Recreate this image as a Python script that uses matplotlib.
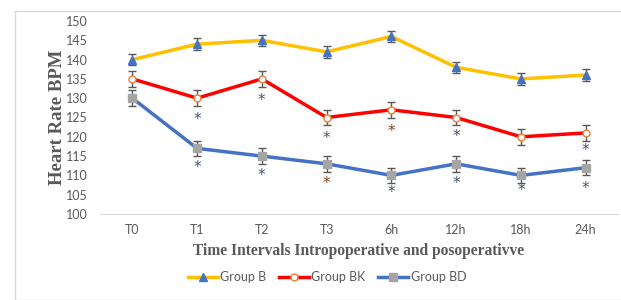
import matplotlib.pyplot as plt
from matplotlib.patches import Rectangle
from matplotlib.lines import Line2D

plt.rcParams["font.family"] = ["Lato", "DejaVu Sans"]

# time points and group means
times = ["T0", "T1", "T2", "T3", "6h", "12h", "18h", "24h"]
group_b = [140, 144, 145, 142, 146, 138, 135, 136]
group_bk = [135, 130, 135, 125, 127, 125, 120, 121]
group_bd = [130, 117, 115, 113, 110, 113, 110, 112]
err_b = [1.5, 1.5, 1.5, 1.5, 1.5, 1.5, 1.5, 1.5]
err_bk = [2, 2, 2, 2, 2, 2, 2, 2]
err_bd = [2, 2, 2, 2, 2, 2, 2, 2]

# significance asterisks: (time index, y level, colour)
stars_bk = [(1, 124.5, "#44546A"), (2, 129.5, "#44546A"), (3, 119.5, "#44546A"),
            (4, 121.5, "#843C0C"), (5, 120, "#44546A"), (7, 116.5, "#44546A")]
stars_bd = [(1, 112, "#44546A"), (2, 110, "#44546A"), (3, 108, "#843C0C"),
            (4, 105.5, "#44546A"), (5, 108, "#44546A"), (6, 106, "#44546A"),
            (7, 106.5, "#44546A")]

fig = plt.figure(figsize=(6.21, 3.0), dpi=100)
fig.patches.append(Rectangle((15 / 621, 0.0), 1.0, 1 - 11 / 300, transform=fig.transFigure,
                             fill=False, edgecolor="#D9D9D9", linewidth=1))
ax = fig.add_axes([100 / 621, 1 - 214 / 300, 518 / 621, 193 / 300])

x = list(range(len(times)))
style_b = dict(color="#FFC000", lw=2.5, marker="^", ms=6, mfc="#4472C4", mec="#4472C4")
style_bk = dict(color="#FF0000", lw=2.5, marker="o", ms=5, mfc="white", mec="#ED7D31", mew=1)
style_bd = dict(color="#4472C4", lw=2.5, marker="s", ms=6, mfc="#A5A5A5", mec="#A5A5A5")
err_style = dict(ecolor="#595959", elinewidth=1, capsize=3, zorder=3)

ax.errorbar(x, group_b, yerr=err_b, **style_b, **err_style)
ax.errorbar(x, group_bk, yerr=err_bk, **style_bk, **err_style)
ax.errorbar(x, group_bd, yerr=err_bd, **style_bd, **err_style)

for i, y, c in stars_bk + stars_bd:
    ax.text(i, y, "*", ha="center", va="center", fontsize=11, color=c,
            family="DejaVu Sans")

ax.set_xlim(-0.5, len(times) - 0.5)
ax.set_ylim(100, 150)
ax.set_yticks(range(100, 151, 5))
ax.set_xticks(x)
ax.set_xticklabels(times)
for s in ["top", "right", "left"]:
    ax.spines[s].set_visible(False)
ax.spines["bottom"].set_color("#D9D9D9")
ax.tick_params(axis="both", length=0, labelsize=9, labelcolor="#595959")
ax.tick_params(axis="x", pad=7)
ax.tick_params(axis="y", pad=9)

ax.set_ylabel("Heart Rate BPM", family="Liberation Serif", fontweight="bold",
              fontsize=13.5, color="#595959", labelpad=0)
ax.set_xlabel("Time Intervals Intropoperative and posoperativve", family="Liberation Serif",
              fontweight="bold", fontsize=11.2, color="#595959", labelpad=5)

handles = [Line2D([], [], **style_b), Line2D([], [], **style_bk), Line2D([], [], **style_bd)]
fig.legend(handles, ["Group B", "Group BK", "Group BD"], loc="center",
           bbox_to_anchor=(327 / 621, 1 - 277 / 300), ncol=3, frameon=False,
           fontsize=9, labelcolor="#595959", handlelength=2.4, columnspacing=1.0,
           handletextpad=0.2)

fig.savefig("out.png", dpi=100)
